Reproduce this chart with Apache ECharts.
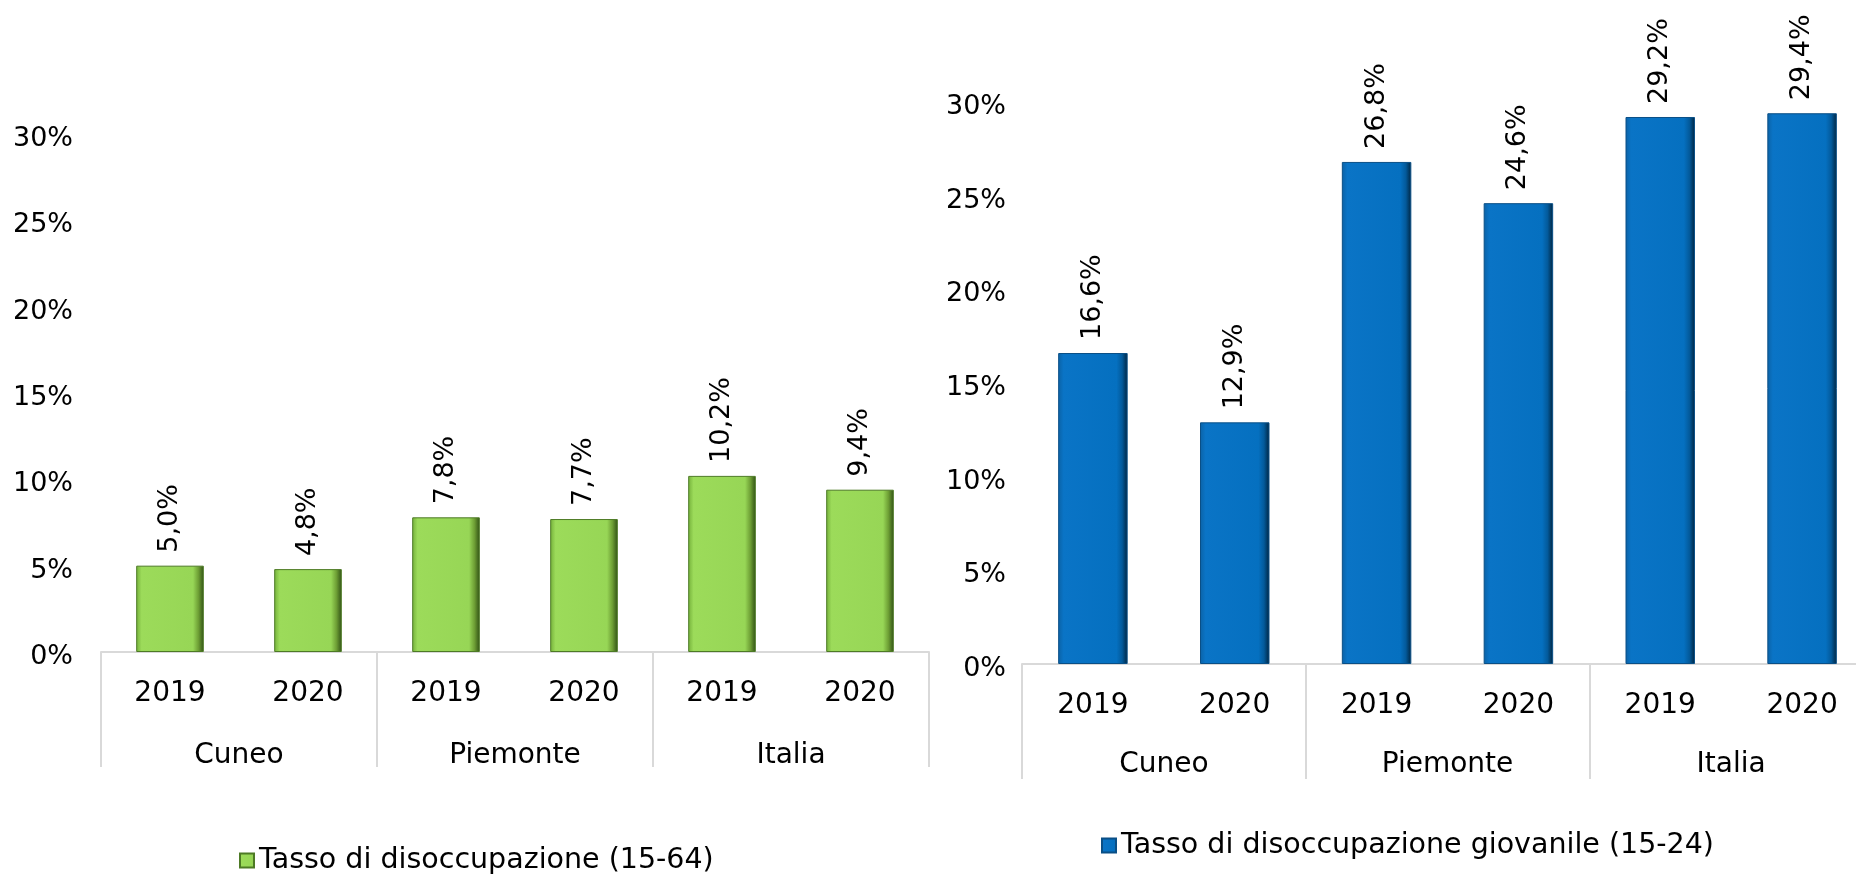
<!DOCTYPE html>
<html>
<head>
<meta charset="utf-8">
<script src="https://cdn.jsdelivr.net/npm/echarts@6/dist/echarts.min.js"></script>
<style>
html,body{margin:0;padding:0;background:#fff;}
#chart{width:1856px;height:876px;}
</style>
</head>
<body>
<div id="chart"></div>
<script>
const years = ['2019','2020','2019','2020','2019','2020'];
const groups = ['Cuneo','Piemonte','Italia'];
const seriesTotalName = 'Tasso di disoccupazione (15-64)';
const seriesYouthName = 'Tasso di disoccupazione giovanile (15-24)';
const totalRate = [5.0, 4.8, 7.8, 7.7, 10.2, 9.4];
const youthRate = [16.6, 12.9, 26.8, 24.6, 29.2, 29.4];
const yMin = 0, yMax = 30, yStep = 5;

const FONT = 'DejaVu Sans';
const fmtPct = v => v.toFixed(1).replace('.', ',') + '%';

const greenFill = new echarts.graphic.LinearGradient(0, 0, 1, 0, [
  {offset: 0, color: '#74b03a'},
  {offset: 0.08, color: '#9cdb5a'},
  {offset: 0.84, color: '#97d656'},
  {offset: 0.92, color: '#6e9f35'},
  {offset: 1, color: '#2f4f14'}
]);
const blueFill = new echarts.graphic.LinearGradient(0, 0, 1, 0, [
  {offset: 0, color: '#0b62a6'},
  {offset: 0.08, color: '#0a74c6'},
  {offset: 0.84, color: '#0570c0'},
  {offset: 0.92, color: '#035a9b'},
  {offset: 1, color: '#00243f'}
]);

function yAxisCfg(grid, margin) {
  return {
    type: 'value', gridIndex: grid, min: yMin, max: yMax, interval: yStep,
    axisLine: {show: false}, axisTick: {show: false}, splitLine: {show: false},
    axisLabel: {formatter: '{a|{value}%}', margin: margin,
                rich: {a: {color: '#000', fontSize: 27, fontFamily: FONT, padding: [10, 0, 0, 0]}}}
  };
}
function yearAxis(grid) {
  return {
    type: 'category', gridIndex: grid, data: years, position: 'bottom',
    axisLine: {show: false}, axisTick: {show: false},
    axisLabel: {color: '#000', fontSize: 28, fontFamily: FONT, margin: 28, interval: 0}
  };
}
function groupAxis(grid, tickLen, margin) {
  return {
    type: 'category', gridIndex: grid, data: groups, position: 'bottom',
    axisLine: {show: true, lineStyle: {color: '#d9d9d9', width: 2}},
    axisTick: {show: true, length: tickLen, interval: 0, lineStyle: {color: '#d9d9d9', width: 2}},
    axisLabel: {color: '#000', fontSize: 28, fontFamily: FONT, margin: margin, interval: 0}
  };
}
function labelCfg() {
  return {
    show: true, position: 'top', rotate: 90, align: 'left', verticalAlign: 'middle',
    distance: 13, color: '#000', fontSize: 27, fontFamily: FONT,
    formatter: p => fmtPct(p.value)
  };
}

const chart = echarts.init(document.getElementById('chart'), null, {renderer: 'canvas'});
chart.setOption({
  animation: false,
  backgroundColor: '#fff',
  grid: [
    {left: 101, width: 828, top: 134, height: 518, outerBoundsMode: 'none', containLabel: false},
    {left: 1022, width: 851, top: 102, height: 562, outerBoundsMode: 'none', containLabel: false}
  ],
  legend: [
    {data: [seriesTotalName], left: 234, top: 841, itemWidth: 14, itemHeight: 14, itemGap: 10,
     icon: 'rect', textStyle: {color: '#000', fontSize: 28.5, fontFamily: FONT}},
    {data: [seriesYouthName], left: 1096, top: 826, itemWidth: 14, itemHeight: 14, itemGap: 10,
     icon: 'rect', textStyle: {color: '#000', fontSize: 28.5, fontFamily: FONT}}
  ],
  xAxis: [yearAxis(0), groupAxis(0, 115, 90), yearAxis(1), groupAxis(1, 115, 87)],
  yAxis: [yAxisCfg(0, 28), yAxisCfg(1, 16)],
  series: [
    {name: seriesTotalName, type: 'bar', xAxisIndex: 0, yAxisIndex: 0, data: totalRate,
     barWidth: '49%', itemStyle: {color: greenFill, borderColor: '#4d7a25', borderWidth: 1},
     label: labelCfg()},
    {name: seriesYouthName, type: 'bar', xAxisIndex: 2, yAxisIndex: 1, data: youthRate,
     barWidth: '49%', itemStyle: {color: blueFill, borderColor: '#0a4f86', borderWidth: 1},
     label: labelCfg()}
  ]
});
</script>
</body>
</html>
